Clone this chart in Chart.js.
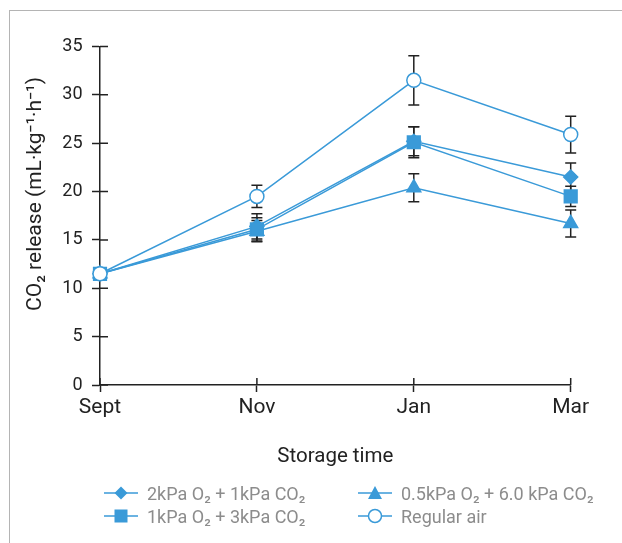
<!DOCTYPE html>
<html>
<head>
<meta charset="utf-8">
<script src="https://cdn.jsdelivr.net/npm/chart.js@4"></script>
<style>
    html, body { margin: 0; padding: 0; background: #fff; overflow: hidden; }
    #wrap { position: relative; width: 622px; height: 543px; }
    #frame { position: absolute; left: 9px; top: 10px; width: 700px; height: 600px;
             border-left: 1.5px solid #b4b4b4; border-top: 1.5px solid #b4b4b4; }
    #chart { position: absolute; left: 0; top: 0; }
    .legend { position: absolute; font-family: Roboto, sans-serif; font-size: 18px; color: #8c8c8c; }
    .item { position: absolute; display: flex; align-items: center; white-space: nowrap; }
    .item svg { margin-right: 9px; }
</style>
</head>
<body>
<div id="wrap">
    <div id="frame"></div>
    <canvas id="chart" width="622" height="543"></canvas>
    <div class="legend" id="legend"></div>
</div>
<script>
// Datos
const months = ['Sept', 'Nov', 'Jan', 'Mar'];
const yTicks = [0, 5, 10, 15, 20, 25, 30, 35];

const diamondVals = [11.5, 16.4, 25.2, 21.5];
const diamondErr = [0.3, 1.3, 1.5, 1.45];
const squareVals = [11.5, 16.1, 25.1, 19.5];
const squareErr = [0.3, 1.2, 1.6, 1.05];
const triangleVals = [11.5, 15.9, 20.4, 16.7];
const triangleErr = [0.3, 1.1, 1.45, 1.4];
const airVals = [11.5, 19.5, 31.5, 25.9];
const airErr = [0.3, 1.15, 2.55, 1.9];

const labels = ['2kPa O\u2082 + 1kPa CO\u2082', '1kPa O\u2082 + 3kPa CO\u2082',
                '0.5kPa O\u2082 + 6.0 kPa CO\u2082', 'Regular air'];

const blue = '#3a9ad8';
const ink = '#222222';
const font = 'Roboto';

function series(label, data, err, style, radius, fill, order) {
    return {
        label: label,
        data: data,
        errors: err,
        borderColor: blue,
        borderWidth: 1.5,
        pointStyle: style,
        pointRadius: radius,
        pointHoverRadius: radius,
        pointBackgroundColor: fill,
        pointBorderColor: blue,
        pointBorderWidth: 1.5,
        tension: 0,
        fill: false,
        order: order
    };
}

// Barras de error
const errorBars = {
    id: 'errorBars',
    beforeDatasetsDraw(chart) {
        const ctx = chart.ctx;
        const x = chart.scales.x, y = chart.scales.y;
        ctx.save();
        ctx.strokeStyle = ink;
        ctx.lineWidth = 1.5;
        chart.data.datasets.forEach(ds => {
            ds.data.forEach((v, i) => {
                const px = x.getPixelForValue(i);
                const top = y.getPixelForValue(v + ds.errors[i]);
                const bot = y.getPixelForValue(v - ds.errors[i]);
                ctx.beginPath();
                ctx.moveTo(px, top); ctx.lineTo(px, bot);
                ctx.moveTo(px - 5.5, top); ctx.lineTo(px + 5.5, top);
                ctx.moveTo(px - 5.5, bot); ctx.lineTo(px + 5.5, bot);
                ctx.stroke();
            });
        });
        ctx.restore();
    }
};

// Marcas hacia dentro + título del eje Y
const axisExtras = {
    id: 'axisExtras',
    afterDraw(chart) {
        const ctx = chart.ctx;
        const x = chart.scales.x, y = chart.scales.y;
        const area = chart.chartArea;
        ctx.save();
        ctx.strokeStyle = ink;
        ctx.lineWidth = 1.5;
        ctx.beginPath();
        yTicks.forEach(t => {
            const py = y.getPixelForValue(t);
            ctx.moveTo(area.left, py); ctx.lineTo(area.left + 8, py);
        });
        months.forEach((m, i) => {
            const px = x.getPixelForValue(i);
            ctx.moveTo(px, area.bottom); ctx.lineTo(px, area.bottom - 7);
        });
        ctx.stroke();

        ctx.translate(36, 194);
        ctx.rotate(-Math.PI / 2);
        ctx.fillStyle = ink;
        ctx.font = '21px ' + font + ', sans-serif';
        ctx.textAlign = 'center';
        ctx.textBaseline = 'middle';
        ctx.fillText('CO\u2082 release (mL\u00b7kg\u207b\u00b9\u00b7h\u207b\u00b9)', 0, 0);
        ctx.restore();
    }
};

const chart = new Chart(document.getElementById('chart'), {
    type: 'line',
    data: {
        labels: months,
        datasets: [
            series(labels[0], diamondVals, diamondErr, 'rectRot', 7, blue, 2),
            series(labels[1], squareVals, squareErr, 'rect', 9, blue, 1),
            series(labels[2], triangleVals, triangleErr, 'triangle', 8, blue, 3),
            series(labels[3], airVals, airErr, 'circle', 7, '#ffffff', 0)
        ]
    },
    options: {
        responsive: false,
        animation: false,
        layout: { padding: { left: 0, top: 46.5, right: 51.3, bottom: 68 } },
        plugins: { legend: { display: false }, tooltip: { enabled: false } },
        scales: {
            x: {
                offset: false,
                afterFit: s => { s.height = 90; },
                grid: { drawOnChartArea: false, tickLength: 7, tickColor: ink, tickWidth: 1.5 },
                border: { color: ink, width: 1.5 },
                ticks: { color: ink, padding: 3, font: { family: font, size: 21 } },
                title: { display: true, text: 'Storage time', color: ink, padding: { top: 0, bottom: 6 },
                         font: { family: font, size: 20.5 } }
            },
            y: {
                min: 0,
                max: 35,
                afterFit: s => { s.width = 100; },
                afterBuildTicks: s => { s.ticks = yTicks.map(v => ({ value: v })); },
                grid: { drawOnChartArea: false, tickLength: 8, tickColor: ink, tickWidth: 1.5 },
                border: { color: ink, width: 1.5 },
                ticks: { color: ink, padding: 9.5, font: { family: font, size: 18 } }
            }
        }
    },
    plugins: [errorBars, axisExtras]
});

// Leyenda HTML (2 columnas)
function marker(style, fill) {
    let shape = '';
    if (style === 'rectRot') shape = '<polygon points="17,1.5 23.5,8 17,14.5 10.5,8" fill="' + fill + '"/>';
    if (style === 'rect') shape = '<rect x="10.5" y="1.5" width="13" height="13" fill="' + fill + '"/>';
    if (style === 'triangle') shape = '<polygon points="17,1 24,14 10,14" fill="' + fill + '"/>';
    if (style === 'circle') shape = '<circle cx="17" cy="8" r="6.5" fill="' + fill + '" stroke="' + blue + '" stroke-width="1.5"/>';
    return '<svg width="34" height="16"><line x1="0" y1="8" x2="34" y2="8" stroke="' + blue + '" stroke-width="1.5"/>' + shape + '</svg>';
}
const legendPos = [[104, 493], [104, 516], [358, 493], [358, 516]];
const legendEl = document.getElementById('legend');
chart.data.datasets.forEach((ds, i) => {
    const d = document.createElement('div');
    d.className = 'item';
    d.style.left = legendPos[i][0] + 'px';
    d.style.top = (legendPos[i][1] - 11) + 'px';
    d.style.height = '22px';
    d.innerHTML = marker(ds.pointStyle, ds.pointBackgroundColor) + '<span>' + ds.label + '</span>';
    legendEl.appendChild(d);
});
</script>
</body>
</html>
